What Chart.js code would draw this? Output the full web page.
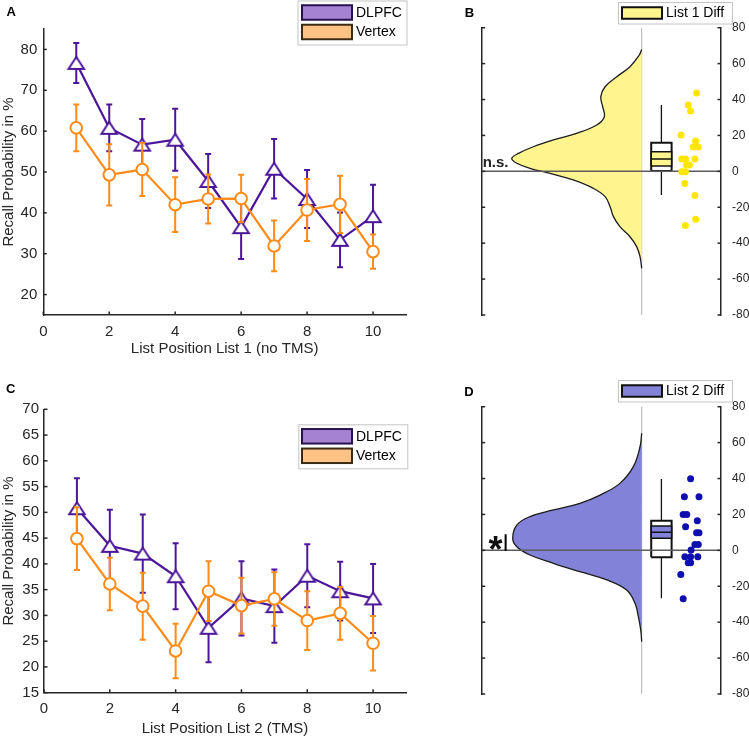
<!DOCTYPE html>
<html><head><meta charset="utf-8">
<script src="https://cdn.jsdelivr.net/npm/chart.js@4.4.1/dist/chart.umd.min.js"></script>
<style>
html,body{margin:0;padding:0;background:#fff;width:749px;height:738px;overflow:hidden}
canvas{position:absolute}
</style></head><body>
<canvas id="cA" width="420" height="370" style="left:0;top:0"></canvas>
<canvas id="cB" width="329" height="370" style="left:420px;top:0"></canvas>
<canvas id="cC" width="420" height="368" style="left:0;top:370px"></canvas>
<canvas id="cD" width="329" height="368" style="left:420px;top:370px"></canvas>
<script>
// ---------------- DATA ----------------
const listPositions = [1, 2, 3, 4, 5, 6, 7, 8, 9, 10];
const seriesNames = ['DLPFC', 'Vertex'];

const list1DLPFC    = [76.7, 60.8, 56.7, 57.9, 47.8, 36.5, 50.8, 43.4, 33.4, 39.2];
const list1DLPFCErr = [4.9, 5.7, 6.3, 7.6, 6.6, 7.8, 7.3, 7.1, 6.7, 7.7];
const list1Vertex    = [60.8, 49.3, 50.6, 42.0, 43.4, 43.5, 31.9, 40.7, 42.1, 30.5];
const list1VertexErr = [5.7, 7.5, 6.5, 6.7, 6.0, 5.8, 6.2, 7.6, 7.0, 4.2];

const list2DLPFC    = [50.8, 43.5, 42.0, 37.6, 27.6, 33.3, 31.8, 37.7, 34.7, 33.3];
const list2DLPFCErr = [5.8, 7.0, 7.6, 6.4, 6.7, 7.2, 7.1, 6.1, 5.7, 6.7];
const list2Vertex    = [44.9, 36.1, 31.8, 23.1, 34.7, 31.9, 33.2, 29.0, 30.4, 24.6];
const list2VertexErr = [6.1, 5.1, 6.5, 5.3, 5.8, 5.4, 5.2, 5.7, 5.1, 5.3];

const xTickValues = [0, 2, 4, 6, 8, 10];
const list1YTicks = [20, 30, 40, 50, 60, 70, 80];
const list2YTicks = [15, 20, 25, 30, 35, 40, 45, 50, 55, 60, 65, 70];
const diffYTicks  = [-80, -60, -40, -20, 0, 20, 40, 60, 80];

// difference distributions (violin outline: value, half-density)
const list1ViolinY       = [67.9, 64.8, 58.3, 52.7, 47.1, 41.6, 36.0, 30.4, 25.8, 21.2, 17.5, 13.7, 10.0, 7.2, 4.5, 1.7, -1.1, -4.8, -9.5, -14.1, -19.7, -25.2, -30.8, -36.4, -41.9, -47.5, -54.0];
const list1ViolinDensity = [0, 1.0, 4.9, 10.4, 15.3, 17.1, 16.3, 15.6, 18.8, 27.2, 36.9, 45.3, 51.5, 54.3, 52.2, 46.7, 38.3, 28.6, 20.2, 15.3, 13.2, 11.8, 9.1, 4.9, 2.1, 0.7, 0];
const list2ViolinY       = [65.2, 57.7, 46.6, 37.3, 30.8, 26.2, 22.5, 18.8, 14.1, 6.7, 2.0, -2.6, -7.2, -11.9, -16.5, -22.1, -29.5, -36.9, -44.4, -50.9];
const list2ViolinDensity = [0, 0.7, 3.5, 9.1, 17.4, 25.8, 36.9, 46.7, 52.2, 53.9, 52.2, 46.7, 36.9, 25.8, 14.6, 6.3, 2.8, 1.4, 0.4, 0];

// box stats: [lowWhisker, q1, ciLow, median, ciHigh, q3, highWhisker]
const list1BoxStats = [-13.2, 0.2, 3.0, 6.9, 10.9, 15.9, 36.9];
const list2BoxStats = [-26.7, -3.9, 6.7, 10.05, 13.6, 16.5, 39.7];

// individual differences
const list1DiffValues = [43.6, 37.0, 33.6, 20.2, 16.9, 13.6, 13.6, 6.9, 6.9, 6.9, 3.5, 3.5, -0.2, -0.2, -6.7, -13.5, -26.7, -30.2];
const list1DiffJitter = [89.8, 86.3, 87.3, 83.3, 89.4, 88.4, 90.5, 83.6, 85.2, 89.1, 86.8, 85.6, 83.6, 85.1, 84.9, 89.1, 89.4, 85.1];
const list2DiffValues = [39.9, 29.9, 29.9, 20.0, 20.0, 13.2, 16.5, 9.8, 9.8, 3.3, 3.3, 0.2, -3.5, -3.5, -3.5, -6.9, -6.9, -13.4, -26.9];
const list2DiffJitter = [87.3, 84.7, 90.8, 84.2, 85.7, 85.2, 90.1, 89.8, 90.8, 89.1, 90.5, 87.5, 84.9, 87.3, 90.3, 86.3, 87.3, 83.2, 84.2];

// ---------------- STYLE / LAYOUT ----------------
const FONT = "'Liberation Sans', Arial, Helvetica, sans-serif";
Chart.defaults.font.family = FONT;
Chart.defaults.color = '#262626';
const AX = '#262626';
const PURPLE = '#4b1699';
const ORANGE = '#ff8c1a';
const PURPLE_SW = '#a682d2';
const ORANGE_SW = '#ffc285';
const YELLOW_V = '#fff48e';
const YELLOW_DOT = '#ffe600';
const BLUE_V = '#8282d8';
const BLUE_DOT = '#0f0fae';
const VBASE = 66.86, BOXC = 75.1, BOXHW = 4.26;

function triangleMarker(color) {
  const c = document.createElement('canvas'); c.width = 20; c.height = 16;
  const g = c.getContext('2d');
  g.beginPath(); g.moveTo(10, 2); g.lineTo(17.75, 14); g.lineTo(2.25, 14); g.closePath();
  g.fillStyle = '#fff'; g.fill(); g.lineWidth = 2; g.strokeStyle = color; g.stroke();
  return c;
}
const TRI = triangleMarker(PURPLE);

// ---------------- PLUGINS ----------------
const errorBars = {
  id: 'errorBars',
  beforeDatasetDraw(chart, args) {
    const ds = chart.data.datasets[args.index];
    if (!ds.errors) return;
    const xs = chart.scales.x, ys = chart.scales.y, ctx = chart.ctx;
    ctx.save();
    ctx.strokeStyle = ds.borderColor; ctx.lineWidth = 2;
    ds.data.forEach((p, i) => {
      const e = ds.errors[i];
      const x = xs.getPixelForValue(p.x);
      const y1 = ys.getPixelForValue(p.y - e), y2 = ys.getPixelForValue(p.y + e);
      ctx.beginPath();
      ctx.moveTo(x, y1); ctx.lineTo(x, y2);
      ctx.moveTo(x - 3, y1); ctx.lineTo(x + 3, y1);
      ctx.moveTo(x - 3, y2); ctx.lineTo(x + 3, y2);
      ctx.stroke();
    });
    ctx.restore();
  }
};

const inwardTicks = {
  id: 'inwardTicks',
  afterDatasetsDraw(chart, args, o) {
    if (!o.scales) return;
    const {ctx, chartArea: a} = chart;
    ctx.save();
    ctx.strokeStyle = AX; ctx.lineWidth = 1.5;
    for (const id of o.scales) {
      const s = chart.scales[id];
      s.ticks.forEach(t => {
        const p = s.getPixelForValue(t.value);
        ctx.beginPath();
        if (s.position === 'left') { ctx.moveTo(a.left, p); ctx.lineTo(a.left + 3.5, p); }
        else if (s.position === 'right') { ctx.moveTo(a.right, p); ctx.lineTo(a.right - 3.5, p); }
        else { ctx.moveTo(p, a.bottom); ctx.lineTo(p, a.bottom - 3.5); }
        ctx.stroke();
      });
    }
    ctx.restore();
  }
};

const boxLegend = {
  id: 'boxLegend',
  afterDraw(chart, args, o) {
    if (!o.items) return;
    const ctx = chart.ctx;
    ctx.save();
    ctx.fillStyle = '#fff'; ctx.fillRect(o.x, o.y, o.w, o.h);
    ctx.strokeStyle = '#c4c4c4'; ctx.lineWidth = 1; ctx.strokeRect(o.x + 0.5, o.y + 0.5, o.w, o.h);
    o.items.forEach((it, i) => {
      const cy = o.rows[i];
      ctx.fillStyle = it.fill; ctx.fillRect(o.sx, cy - o.sh / 2, o.sw, o.sh);
      ctx.strokeStyle = it.stroke; ctx.lineWidth = 2; ctx.strokeRect(o.sx, cy - o.sh / 2, o.sw, o.sh);
      ctx.fillStyle = '#000'; ctx.font = '14px ' + FONT; ctx.textBaseline = 'middle'; ctx.textAlign = 'left';
      ctx.fillText(it.label, o.tx, cy + 0.5);
    });
    ctx.restore();
  }
};

const panelText = {
  id: 'panelText',
  afterDraw(chart, args, o) {
    if (!o.items) return;
    const ctx = chart.ctx;
    ctx.save();
    o.items.forEach(it => {
      let x = it.px, y = it.py;
      if (it.xv !== undefined) x = chart.scales.x.getPixelForValue(it.xv) + (it.dx || 0);
      if (it.yv !== undefined) y = chart.scales.y.getPixelForValue(it.yv) + (it.dy || 0);
      ctx.font = it.font; ctx.fillStyle = it.color || '#000';
      ctx.textAlign = it.align || 'center'; ctx.textBaseline = it.baseline || 'middle';
      ctx.fillText(it.text, x, y);
    });
    ctx.restore();
  }
};

// ---------------- CHARTS ----------------
function lineChart(id, dl, dlErr, vx, vxErr, yMin, yMax, yTicks, xTitle, L) {
  return new Chart(document.getElementById(id), {
    type: 'scatter',
    data: {
      datasets: [
        { label: seriesNames[0], data: listPositions.map((x, i) => ({x, y: dl[i]})), errors: dlErr,
          showLine: true, borderColor: PURPLE, borderWidth: 2.2, pointStyle: TRI, pointRadius: 8, order: 1 },
        { label: seriesNames[1], data: listPositions.map((x, i) => ({x, y: vx[i]})), errors: vxErr,
          showLine: true, borderColor: ORANGE, borderWidth: 2.2, pointStyle: 'circle', pointRadius: 5.8,
          pointBorderWidth: 2, pointBackgroundColor: '#fff', pointBorderColor: ORANGE, order: 0 }
      ]
    },
    options: {
      responsive: false, animation: false, events: [],
      layout: { padding: { top: L.top, right: 14, left: 0, bottom: 0 } },
      plugins: {
        legend: { display: false }, tooltip: { enabled: false },
        inwardTicks: { scales: ['x', 'y'] },
        boxLegend: {
          x: L.lx, y: L.ly, w: 109, h: 44, sx: 302, sw: 50, sh: 14.5, tx: 356,
          rows: [L.ly + 12, L.ly + 31.5],
          items: [
            { label: seriesNames[0], fill: PURPLE_SW, stroke: '#26104d' },
            { label: seriesNames[1], fill: ORANGE_SW, stroke: '#3b2a14' }
          ]
        },
        panelText: { items: [{ text: L.letter, px: L.letX, py: L.letY, font: 'bold 13px ' + FONT }] }
      },
      scales: {
        x: {
          type: 'linear', min: 0, max: 11,
          afterBuildTicks: s => { s.ticks = xTickValues.map(v => ({value: v})); },
          afterFit: s => { s.height = L.xh; },
          grid: { display: false, drawTicks: false },
          border: { color: AX, width: 1.5 },
          ticks: { padding: L.xpad, font: { size: 15 }, color: AX },
          title: { display: true, text: xTitle, font: { size: 15 }, color: AX, padding: { top: 0, bottom: L.tpad } }
        },
        y: {
          min: yMin, max: yMax,
          afterBuildTicks: s => { s.ticks = yTicks.map(v => ({value: v})); },
          afterFit: s => { s.width = L.yw; },
          grid: { display: false, drawTicks: false },
          border: { color: AX, width: 1.5 },
          ticks: { padding: L.ypad, font: { size: 15 }, color: AX },
          title: { display: true, text: 'Recall Probability in %', font: { size: 15 }, color: AX, padding: { top: 0, bottom: 0 } }
        }
      }
    },
    plugins: [errorBars, inwardTicks, boxLegend, panelText]
  });
}

function rect(x0, x1, y0, y1) {
  return [{x: x0, y: y0}, {x: x1, y: y0}, {x: x1, y: y1}, {x: x0, y: y1}, {x: x0, y: y0}];
}

function diffChart(id, vY, vD, box, vals, jit, vFill, dotColor, legendLabel, L) {
  const ds = [
    { data: [{x: VBASE, y: -80}, {x: VBASE, y: 80}], showLine: true, borderColor: '#b3b3b3', borderWidth: 1, pointRadius: 0, order: 8 },
    { data: vY.map((y, i) => ({x: VBASE - vD[i], y})), showLine: true, fill: 'shape', backgroundColor: vFill,
      borderColor: '#1c1c1c', borderWidth: 1.3, tension: 0.4, pointRadius: 0, order: 7 },
    { data: [{x: BOXC, y: box[0]}, {x: BOXC, y: box[6]}], showLine: true, borderColor: '#111', borderWidth: 1.3, pointRadius: 0, order: 6 },
    { data: rect(BOXC - BOXHW, BOXC + BOXHW, box[1], box[5]), showLine: true, fill: 'shape', backgroundColor: '#fff',
      borderColor: '#111', borderWidth: 2, pointRadius: 0, order: 5 },
    { data: rect(BOXC - BOXHW, BOXC + BOXHW, box[2], box[4]), showLine: true, fill: 'shape', backgroundColor: vFill,
      borderColor: '#111', borderWidth: 1.5, pointRadius: 0, order: 4 },
    { data: [{x: BOXC - BOXHW, y: box[3]}, {x: BOXC + BOXHW, y: box[3]}], showLine: true, borderColor: '#111', borderWidth: 1.5, pointRadius: 0, order: 3 },
    { data: [{x: 0, y: 0}, {x: 100, y: 0}], showLine: true, borderColor: '#5c5c5c', borderWidth: 1.5, pointRadius: 0, order: 2 },
    { data: vals.map((v, i) => ({x: jit[i], y: v})), showLine: false, pointRadius: 3.5, backgroundColor: dotColor, borderWidth: 0, order: 0 }
  ];
  if (L.sigLine) ds.push({ data: L.sigLine, showLine: true, borderColor: '#000', borderWidth: 2, pointRadius: 0, order: 1 });
  return new Chart(document.getElementById(id), {
    type: 'scatter',
    data: { datasets: ds },
    options: {
      responsive: false, animation: false, events: [],
      layout: { padding: { top: L.top, bottom: L.bottom, left: 0, right: 0 } },
      plugins: {
        legend: { display: false }, tooltip: { enabled: false },
        inwardTicks: { scales: ['y', 'y2'] },
        boxLegend: {
          x: 198, y: L.ly, w: 114, h: 21.5, sx: 202, sw: 40, sh: 11.5, tx: 246,
          rows: [L.ly + 11],
          items: [{ label: legendLabel, fill: vFill, stroke: '#111' }]
        },
        panelText: { items: L.texts }
      },
      scales: {
        x: { type: 'linear', min: 0, max: 100, display: false },
        y: {
          position: 'left', min: -80, max: 80,
          afterBuildTicks: s => { s.ticks = diffYTicks.map(v => ({value: v})); },
          afterFit: s => { s.width = 61.7; },
          grid: { display: false, drawTicks: false },
          border: { color: AX, width: 1.5 },
          ticks: { display: false }
        },
        y2: {
          position: 'right', min: -80, max: 80,
          afterBuildTicks: s => { s.ticks = diffYTicks.map(v => ({value: v})); },
          afterFit: s => { s.width = 28; },
          grid: { display: false, drawTicks: false },
          border: { color: AX, width: 1.5 },
          ticks: { padding: 11, font: { size: 12 }, color: AX }
        }
      }
    },
    plugins: [inwardTicks, boxLegend, panelText]
  });
}

lineChart('cA', list1DLPFC, list1DLPFCErr, list1Vertex, list1VertexErr, 15, 85, list1YTicks,
  'List Position List 1 (no TMS)',
  { top: 29, xh: 55, xpad: 8, tpad: 12, yw: 43.3, ypad: 6, lx: 297.5, ly: 0.5, letter: 'A', letX: 11.3, letY: 12.5 });

lineChart('cC', list2DLPFC, list2DLPFCErr, list2Vertex, list2VertexErr, 15, 70, list2YTicks,
  'List Position List 2 (TMS)',
  { top: 39.3, xh: 45.3, xpad: 7, tpad: 0, yw: 44, ypad: 5, lx: 298.3, ly: 54.3, letter: 'C', letX: 10.8, letY: 19.5 });

diffChart('cB', list1ViolinY, list1ViolinDensity, list1BoxStats, list1DiffValues, list1DiffJitter,
  YELLOW_V, YELLOW_DOT, 'List 1 Diff',
  { top: 27.7, bottom: 55, ly: 2,
    texts: [
      { text: 'B', px: 49.5, py: 13.8, font: 'bold 13px ' + FONT },
      { text: 'n.s.', xv: 0.4, yv: 0, dy: -4.4, font: 'bold 15px ' + FONT, align: 'left', baseline: 'alphabetic', color: '#222' }
    ] });

diffChart('cD', list2ViolinY, list2ViolinDensity, list2BoxStats, list2DiffValues, list2DiffJitter,
  BLUE_V, BLUE_DOT, 'List 2 Diff',
  { top: 36.7, bottom: 44, ly: 10,
    sigLine: [{x: 10, y: -0.4}, {x: 10, y: 8.9}],
    texts: [
      { text: 'D', px: 49, py: 22.7, font: 'bold 13px ' + FONT },
      { text: '*', xv: 5.8, yv: 0, dy: 12, font: 'bold 36px ' + FONT, align: 'center', baseline: 'alphabetic', color: '#111' }
    ] });
</script>
</body></html>
